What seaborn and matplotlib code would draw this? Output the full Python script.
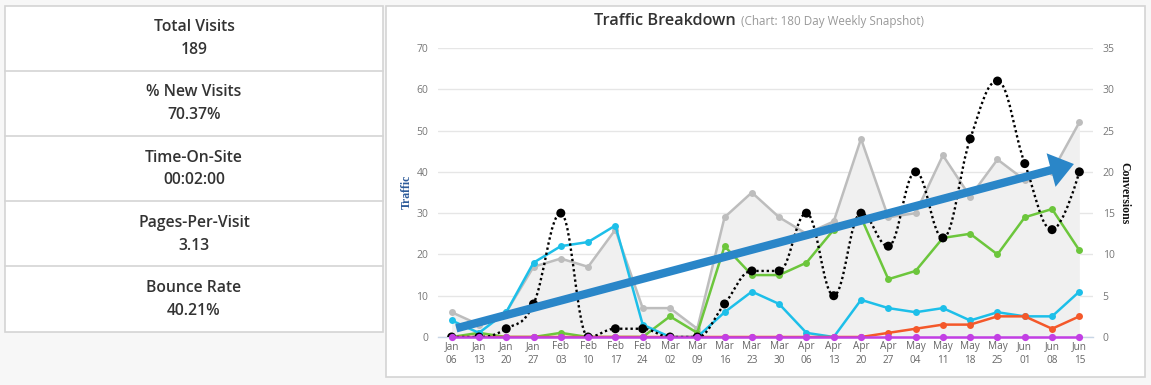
import numpy as np
import pandas as pd
import matplotlib
matplotlib.use("Agg")
import matplotlib.pyplot as plt
from matplotlib.path import Path
from matplotlib.patches import PathPatch, Rectangle, FancyArrowPatch
import seaborn as sns

# ---------------- data ----------------
months = ["Jan", "Jan", "Jan", "Jan", "Feb", "Feb", "Feb", "Feb", "Mar", "Mar", "Mar", "Mar",
          "Mar", "Apr", "Apr", "Apr", "Apr", "May", "May", "May", "May", "Jun", "Jun", "Jun"]
days = ["06", "13", "20", "27", "03", "10", "17", "24", "02", "09", "16", "23",
        "30", "06", "13", "20", "27", "04", "11", "18", "25", "01", "08", "15"]
total_traffic = [6, 3, 6, 17, 19, 17, 26, 7, 7, 2, 29, 35, 29, 25, 28, 48, 29, 30, 44, 34, 43, 38, 40, 52]
green_series = [0, 1, 0, 0, 1, 0, 0, 0, 5, 1, 22, 15, 15, 18, 26, 29, 14, 16, 24, 25, 20, 29, 31, 21]
blue_series = [4, 1, 6, 18, 22, 23, 27, 3, 0, 0, 6, 11, 8, 1, 0, 9, 7, 6, 7, 4, 6, 5, 5, 11]
orange_series = [0, 0, 0, 0, 0, 0, 0, 0, 0, 0, 0, 0, 0, 0, 0, 0, 1, 2, 3, 3, 5, 5, 2, 5]
magenta_series = [0] * 24
conversions = [0, 0, 1, 4, 15, 0, 1, 1, 0, 0, 4, 8, 8, 15, 5, 15, 11, 20, 12, 24, 31, 21, 13, 20]

stat_labels = ["Total Visits", "% New Visits", "Time-On-Site", "Pages-Per-Visit", "Bounce Rate"]
stat_values = ["189", "70.37%", "00:02:00", "3.13", "40.21%"]

title_main = "Traffic Breakdown"
title_sub = "(Chart: 180 Day Weekly Snapshot)"
trend_arrow = [(0.17, 2.1), (22.8, 41.9)]  # annotation overlay, in (week index, traffic) units

# ---------------- style ----------------
sns.set_theme(style="white")
plt.rcParams["font.family"] = ["Open Sans", "DejaVu Sans"]

W, H = 1151, 385
fig = plt.figure(figsize=(W / 100, H / 100), dpi=100)
fig.patch.set_facecolor("#f7f7f7")


def fx(px):
    return px / W


def fy(py):
    return 1 - py / H


# ---------------- left stats table ----------------
bg = fig.add_axes([0, 0, 1, 1], zorder=-5)
bg.set_xlim(0, W)
bg.set_ylim(H, 0)
bg.axis("off")
bg.add_patch(Rectangle((5.5, 5.5), 377.5, 326, facecolor="white", edgecolor="#d4d4d4", lw=1.2))
row_tops = [5.5, 70.7, 136, 201.2, 266.4]
for i, top in enumerate(row_tops):
    if i > 0:
        bg.plot([5.5, 383], [top, top], color="#d4d4d4", lw=1.2)
    bg.text(194, top + 21.5, stat_labels[i], ha="center", va="center", fontsize=11.3,
            fontweight="semibold", color="#333333")
    bg.text(194, top + 44.5, stat_values[i], ha="center", va="center", fontsize=11.3,
            fontweight="semibold", color="#333333")
bg.add_patch(Rectangle((386.5, 5.5), 758.5, 371.5, facecolor="white", edgecolor="#d4d4d4", lw=1.2))

# ---------------- chart ----------------
x = np.arange(len(days))
df = pd.DataFrame({"x": x, "total": total_traffic, "green": green_series, "blue": blue_series,
                   "orange": orange_series, "magenta": magenta_series, "conv": conversions})

L, R, T, B = 438, 1093, 48, 337
ax = fig.add_axes([fx(L), fy(B), fx(R) - fx(L), fy(T) - fy(B)])
ax.patch.set_alpha(0)

ax.fill_between(df["x"], df["total"], 0, color="#f0f0f0", lw=0, zorder=1)
sns.lineplot(data=df, x="x", y="total", ax=ax, color="#bdbdbd", lw=1.8, marker="o",
             markersize=5, markeredgewidth=0, zorder=2)
sns.lineplot(data=df, x="x", y="green", ax=ax, color="#6cc63c", lw=1.8, marker="o",
             markersize=5, markeredgewidth=0, zorder=3)
sns.lineplot(data=df, x="x", y="blue", ax=ax, color="#1dbfe9", lw=1.8, marker="o",
             markersize=5, markeredgewidth=0, zorder=4)
sns.lineplot(data=df, x="x", y="orange", ax=ax, color="#f4582a", lw=1.8, marker="o",
             markersize=5, markeredgewidth=0, zorder=5)

ax.set_xlim(-0.5, len(days) - 0.5)
ax.set_ylim(0, 70)
ax.set_yticks(range(0, 71, 10))
ax.yaxis.grid(True, color="#e6e6e6", lw=1)
ax.set_axisbelow(True)
ax.set_xticks(x)
ax.set_xticklabels([f"{m}\n{d}" for m, d in zip(months, days)], fontsize=7.2, color="#666666",
                   linespacing=1.4)
ax.set_xticks(np.arange(-0.5, len(days)), minor=True)
ax.tick_params(axis="x", which="major", length=0, pad=3)
ax.tick_params(axis="x", which="minor", length=5, color="#c8d6e6", width=1)
ax.tick_params(axis="y", length=0, pad=7, labelsize=7.5, labelcolor="#777777")
for s in ["top", "right", "left"]:
    ax.spines[s].set_visible(False)
ax.spines["bottom"].set_color("#c8d6e6")
ax.spines["bottom"].set_linewidth(1)
ax.set_xlabel("")
ax.set_ylabel("")

# conversions on secondary axis, smoothed like a spline chart
ax2 = ax.twinx()
ax2.set_ylim(0, 35)
ax2.set_yticks(range(0, 36, 5))
ax2.tick_params(axis="y", length=0, pad=7, labelsize=7.5, labelcolor="#777777")
for s in ax2.spines.values():
    s.set_visible(False)


def spline_path(xs, ys, smoothing=1.5):
    denom = smoothing + 1
    n = len(xs)
    verts = [(xs[0], ys[0])]
    codes = [Path.MOVETO]
    right_c = [None] * n
    for i in range(n):
        px, py = xs[i], ys[i]
        lc = (px, py)
        if 0 < i < n - 1:
            lx, ly = xs[i - 1], ys[i - 1]
            nx, ny = xs[i + 1], ys[i + 1]
            lcx = (smoothing * px + lx) / denom
            lcy = (smoothing * py + ly) / denom
            rcx = (smoothing * px + nx) / denom
            rcy = (smoothing * py + ny) / denom
            corr = ((rcy - lcy) * (rcx - px)) / (rcx - lcx) + py - rcy
            lcy += corr
            rcy += corr
            if lcy > ly and lcy > py:
                lcy = max(ly, py); rcy = 2 * py - lcy
            elif lcy < ly and lcy < py:
                lcy = min(ly, py); rcy = 2 * py - lcy
            if rcy > ny and rcy > py:
                rcy = max(ny, py); lcy = 2 * py - rcy
            elif rcy < ny and rcy < py:
                rcy = min(ny, py); lcy = 2 * py - rcy
            lc = (lcx, lcy)
            right_c[i] = (rcx, rcy)
        if i > 0:
            prc = right_c[i - 1] if right_c[i - 1] is not None else (xs[i - 1], ys[i - 1])
            verts += [prc, lc, (px, py)]
            codes += [Path.CURVE4] * 3
    return Path(verts, codes)


ax2.add_patch(PathPatch(spline_path(list(df["x"]), list(df["conv"])), fill=False,
                        edgecolor="black", lw=1.7, linestyle=(0, (1, 1.2)), zorder=3))
sns.scatterplot(data=df, x="x", y="conv", ax=ax2, color="black", s=42, edgecolor="none",
                zorder=4, legend=False)
ax2.set_xlabel("")
ax2.set_ylabel("")

# magenta traffic series drawn on top (left scale)
ax3 = ax.twinx()
ax3.set_ylim(0, 70)
ax3.axis("off")
sns.lineplot(data=df, x="x", y="magenta", ax=ax3, color="#c23fe4", lw=1.8, marker="o",
             markersize=5.2, markeredgewidth=0, zorder=5, clip_on=False)
ax3.set_xlim(-0.5, len(days) - 0.5)

# trend arrow overlay
arrow = FancyArrowPatch(trend_arrow[0], trend_arrow[1], transform=ax3.transData,
                        arrowstyle="simple,head_length=17,head_width=25,tail_width=6",
                        mutation_scale=1, color="#2a86c8", lw=0, shrinkA=0, shrinkB=0,
                        zorder=10, clip_on=False)
ax3.add_patch(arrow)

# axis titles
fig.text(fx(407), fy(192), "Traffic", rotation=90, ha="center", va="center", fontsize=8.5,
         fontweight="bold", color="#2d5b9a", family=["Liberation Serif", "DejaVu Serif"])
fig.text(fx(1124), fy(193), "Conversions", rotation=270, ha="center", va="center", fontsize=8.5,
         fontweight="bold", color="#111111", family=["Liberation Serif", "DejaVu Serif"])

# chart title
fig.text(fx(736), fy(21), title_main, ha="right", va="center", fontsize=11.7,
         fontweight="semibold", color="#333333")
fig.text(fx(741), fy(22), title_sub, ha="left", va="center", fontsize=8.4, color="#999999")

fig.savefig("out.png", dpi=100, facecolor=fig.get_facecolor())
